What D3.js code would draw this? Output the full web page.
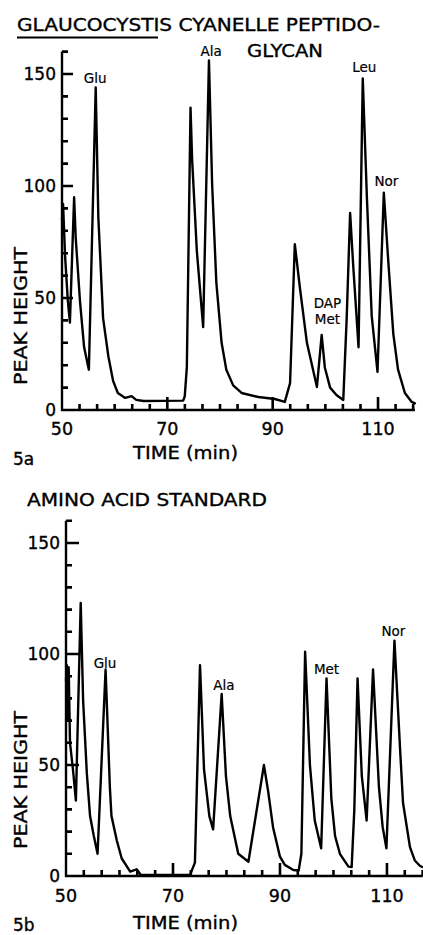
<!DOCTYPE html>
<html>
<head>
<meta charset="utf-8">
<script src="https://cdn.jsdelivr.net/npm/d3@7"></script>
<style>
  html, body { margin: 0; padding: 0; background: #fff; }
  svg { display: block; }
  text { font-family: "DejaVu Sans", sans-serif; fill: #000; stroke: #000; stroke-width: 0.35px; }
</style>
</head>
<body>
<svg id="chart" width="423" height="935"></svg>
<script>
// ---------- DATA ----------
const timeA = [50.0, 50.2, 50.6, 51.1, 51.5, 52.3, 52.6, 53.4, 54.2, 55.1, 56.4, 56.9, 57.8, 58.8, 59.7, 60.6, 62.0, 63.2, 64.1, 65.5,
  73.0, 73.3, 73.7, 74.4, 74.7, 75.6, 76.8, 77.9, 78.5, 79.3, 80.3, 81.2, 82.5, 84.1, 87.3, 90.4, 92.3, 93.3, 94.2, 95.2, 96.5,
  98.4, 99.3, 99.9, 100.9, 102.1, 103.4, 104.05, 104.7, 105.3, 106.3, 107.1, 107.9, 108.8, 109.9, 111.1, 111.9, 112.9, 113.8,
  115.1, 116.4, 117.0];
const valueA = [85, 92, 68, 49, 39, 95, 77, 49, 28, 18, 144, 86, 41, 24, 13, 7.6, 5.4, 6.2, 4.5, 4,
  4.2, 6, 19, 135, 112, 71, 37, 156, 101, 57, 30, 18, 11, 7.6, 5.8, 4.9, 3.6, 12, 74, 54, 30,
  10.3, 33.5, 19, 10, 6.7, 4.5, 41, 88, 64, 28, 148, 94, 42, 17, 97, 68, 34, 18,
  7.6, 3.6, 3];
const peakNamesA = ["Glu", "Ala", "Leu", "Nor", "DAP", "Met"];
const peakTimesA = [56.3, 78.3, 107.4, 111.6, 100.4, 100.4];
const peakLabelValsA = [146, 158, 151, 100, 45.5, 38.4];

const timeB = [50.0, 50.15, 50.35, 50.5, 50.75, 51.3, 51.85, 52.75, 53.2, 53.9, 54.5, 55.2, 55.9, 57.4, 58.2, 58.5, 59.5, 60.4,
  62.0, 63.2, 64.0, 73.2, 74.1, 75.05, 75.8, 76.8, 77.5, 79.1, 79.9, 80.7, 82.2, 84.1, 87.0, 87.8, 88.7, 90.0, 90.9, 92.5,
  93.5, 94.0, 94.7, 95.6, 96.5, 97.7, 98.7, 99.6, 100.3, 101.2, 102.8, 103.4, 103.9, 104.5, 105.3, 106.2, 107.4, 108.5,
  109.2, 109.9, 111.4, 112.5, 113.0, 114.3, 115.2, 116.2, 116.7];
const valueB = [88, 95, 70, 94, 60, 48, 34, 123, 79, 46, 27, 18, 10, 93, 40, 27, 16, 8,
  2, 3, 0.5, 0.5, 6, 95, 48, 27, 21, 82, 45, 27, 10, 6.4, 50, 38, 22, 8.7, 5, 2.7,
  2.5, 10, 101, 50, 25, 12.5, 89, 35, 18, 10, 4.2, 4, 30, 89, 45, 25, 93, 40,
  22, 12.5, 106, 55, 33, 13, 7, 4.5, 4];
const peakNamesB = ["Glu", "Ala", "Met", "Nor"];
const peakTimesB = [57.3, 79.5, 98.7, 111.2];
const peakLabelValsB = [93.7, 83.8, 91, 108];

const yMajorTicks = [0, 50, 100, 150];
const yMinorTicks = [10, 20, 30, 40, 60, 70, 80, 90, 110, 120, 130, 140, 160];
const xMajorTicks = [50, 70, 90, 110];
const xMajorLabels = ["50", "70", "90", "110"];
const xMinorTicks = [53.33, 56.67, 60, 63.33, 66.67, 73.33, 76.67, 80, 83.33, 86.67, 93.33, 96.67, 100, 103.33, 106.67, 113.33, 116.67];

// ---------- DRAW ----------
const svg = d3.select("#chart");
svg.append("rect").attr("width", 423).attr("height", 935).attr("fill", "#fff");

function panel(cfg) {
  const g = svg.append("g");
  const x = d3.scaleLinear().domain(cfg.xDomain).range(cfg.xRange);
  const y = d3.scaleLinear().domain([0, 160]).range(cfg.yRange);
  const x0 = cfg.xRange[0], y0 = cfg.yRange[0];

  const pa = d3.path();
  pa.moveTo(x0, y(160)); pa.lineTo(x0, y0); pa.lineTo(x(cfg.xDomain[1]), y0);
  g.append("path").attr("d", pa.toString())
    .attr("fill", "none").attr("stroke", "#000").attr("stroke-width", 2.4);

  const p = d3.path();
  yMinorTicks.forEach(v => { p.moveTo(x0, y(v)); p.lineTo(x0 + 6, y(v)); });
  yMajorTicks.filter(v => v > 0).forEach(v => { p.moveTo(x0, y(v)); p.lineTo(x0 + cfg.yMajLen, y(v)); });
  xMinorTicks.filter(v => v <= cfg.xDomain[1]).forEach(v => { p.moveTo(x(v), y0); p.lineTo(x(v), y0 - 6); });
  xMajorTicks.filter(v => v > 50).forEach(v => { p.moveTo(x(v), y0); p.lineTo(x(v), y0 - 13); });
  g.append("path").attr("class", "ticks").attr("d", p.toString())
    .attr("fill", "none").attr("stroke", "#000").attr("stroke-width", 2.6);

  g.selectAll(".ylab").data(yMajorTicks).join("text")
    .attr("x", x0 - cfg.yPad).attr("y", d => y(d)).attr("dy", "0.36em")
    .attr("text-anchor", "end").attr("font-size", 17).text(d => d);
  g.selectAll(".xlab").data(xMajorTicks).join("text")
    .attr("x", d => x(d)).attr("y", y0 + cfg.xPad)
    .attr("text-anchor", "middle").attr("font-size", 17.5).text((d, i) => xMajorLabels[i]);

  const pts = cfg.times.map((t, i) => [t, cfg.values[i]]);
  g.append("path").datum(pts)
    .attr("fill", "none").attr("stroke", "#000").attr("stroke-width", 2.4)
    .attr("stroke-linejoin", "round").attr("stroke-linecap", "round")
    .attr("d", d3.line().x(d => x(d[0])).y(d => y(d[1])));

  cfg.names.forEach((n, i) => {
    g.append("text").attr("x", x(cfg.ptimes[i])).attr("y", y(cfg.pvals[i]))
      .attr("text-anchor", "middle").attr("font-size", 13.5).style("stroke-width", "0.2px").text(n);
  });

  g.append("text")
    .attr("transform", `translate(27,${cfg.yTitleY}) rotate(-90)`)
    .attr("text-anchor", "middle").attr("font-size", 18)
    .attr("textLength", 138).attr("lengthAdjust", "spacingAndGlyphs")
    .text("PEAK HEIGHT");
  g.append("text").attr("x", 133).attr("y", cfg.xTitleY).attr("font-size", 17)
    .attr("textLength", 105).attr("lengthAdjust", "spacingAndGlyphs").text("TIME (min)");
  g.append("text").attr("x", 13).attr("y", cfg.tagY).attr("font-size", 17).text(cfg.tag);
}

svg.append("text").attr("x", 17).attr("y", 31).attr("font-size", 17)
  .attr("textLength", 363).attr("lengthAdjust", "spacingAndGlyphs")
  .text("GLAUCOCYSTIS CYANELLE PEPTIDO-");
svg.append("line").attr("x1", 17).attr("x2", 158).attr("y1", 37.5).attr("y2", 37.5)
  .attr("stroke", "#000").attr("stroke-width", 1.8);
svg.append("text").attr("x", 247).attr("y", 57).attr("font-size", 17)
  .attr("textLength", 76).attr("lengthAdjust", "spacingAndGlyphs").text("GLYCAN");
svg.append("text").attr("x", 27).attr("y", 506).attr("font-size", 17)
  .attr("textLength", 240).attr("lengthAdjust", "spacingAndGlyphs").text("AMINO ACID STANDARD");

panel({
  xDomain: [50, 117], xRange: [62, 414.9], yRange: [410, 51.6],
  times: timeA, values: valueA,
  names: peakNamesA, ptimes: peakTimesA, pvals: peakLabelValsA,
  yPad: 6, yMajLen: 11, xPad: 25, yTitleY: 316, xTitleY: 459, tag: "5a", tagY: 465
});
panel({
  xDomain: [50, 116.7], xRange: [66, 422.8], yRange: [876, 520.8],
  times: timeB, values: valueB,
  names: peakNamesB, ptimes: peakTimesB, pvals: peakLabelValsB,
  yPad: 6, yMajLen: 13, xPad: 26, yTitleY: 780, xTitleY: 929, tag: "5b", tagY: 931
});
</script>
</body>
</html>
